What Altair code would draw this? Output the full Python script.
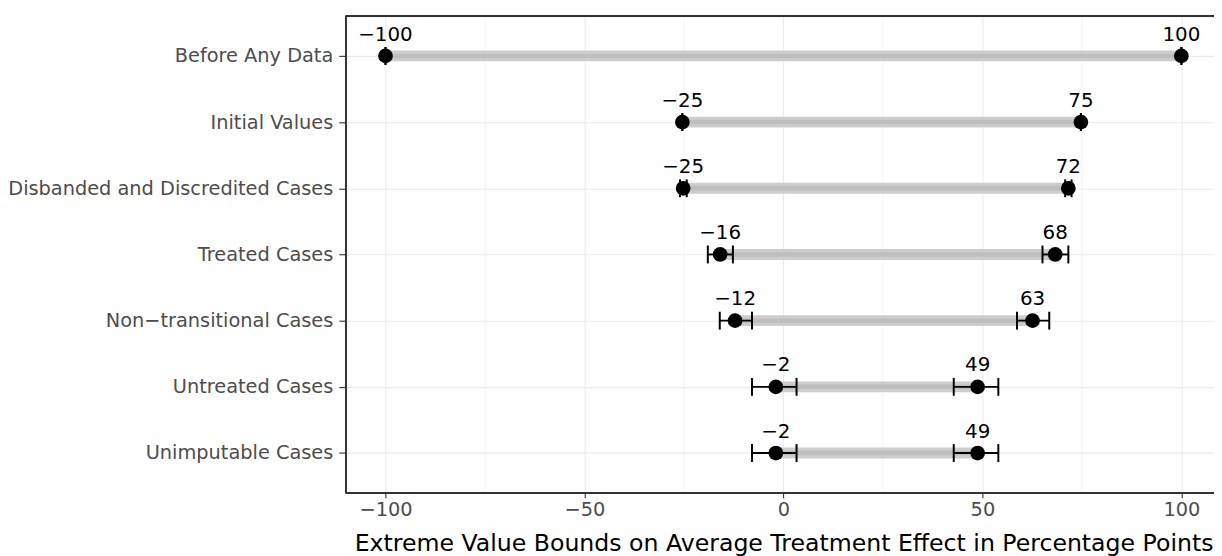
import altair as alt
import pandas as pd

categories = [
    "Before Any Data",
    "Initial Values",
    "Disbanded and Discredited Cases",
    "Treated Cases",
    "Non\u2212transitional Cases",
    "Untreated Cases",
    "Unimputable Cases",
]
lower_est = [-100, -25.4, -25.2, -15.9, -12.15, -1.9, -1.9]
lower_ci_lo = [-100, -25.4, -26.0, -19.0, -16.0, -7.9, -7.9]
lower_ci_hi = [-100, -25.4, -24.3, -12.7, -7.9, 3.3, 3.3]
upper_est = [100, 74.75, 71.6, 68.3, 62.6, 48.8, 48.8]
upper_ci_lo = [100, 74.75, 70.8, 65.1, 58.7, 42.8, 42.8]
upper_ci_hi = [100, 74.75, 72.4, 71.6, 66.8, 54.0, 54.0]

major_ticks = [-100, -50, 0, 50, 100]
minor_ticks = [-75, -25, 25, 75]
x_domain = [-110, 108.2]


def lab(v):
    return f"{round(v):d}".replace("-", "\u2212")


rows = []
for i, c in enumerate(categories):
    rows.append(dict(cat=c, est=lower_est[i], lo=lower_ci_lo[i], hi=lower_ci_hi[i], label=lab(lower_est[i])))
    rows.append(dict(cat=c, est=upper_est[i], lo=upper_ci_lo[i], hi=upper_ci_hi[i], label=lab(upper_est[i])))
pts = pd.DataFrame(rows)
seg = pd.DataFrame(dict(cat=categories, a=lower_est, b=upper_est))
minor = pd.DataFrame(dict(v=minor_ticks))

W = 875.5
H = 480.5
FONT = "DejaVu Sans"

xscale = alt.Scale(domain=x_domain, nice=False, zero=False)
yscale = alt.Scale(type="point", padding=0.6, domain=categories)

xaxis = alt.Axis(
    values=major_ticks, grid=True, gridColor="#EBEBEB", gridWidth=1.1,
    domain=False, tickColor="#333333", tickWidth=1.1, tickSize=5,
    labelFont=FONT, labelFontSize=19.5, labelColor="#4D4D4D", labelPadding=3,
    title="Extreme Value Bounds on Average Treatment Effect in Percentage Points",
    titleFont=FONT, titleFontSize=23.8, titleColor="black", titleFontWeight="normal",
    titleX=441.5, titleY=58, titleBaseline="alphabetic", titleAlign="center",
)
yaxis = alt.Axis(
    title=None, grid=True, gridColor="#EBEBEB", gridWidth=1.1, domain=False,
    tickColor="#333333", tickWidth=1.1, tickSize=7,
    labelFont=FONT, labelFontSize=19.5, labelColor="#4D4D4D", labelPadding=6,
    labelLimit=0,
)

base_x = alt.X("est:Q", scale=xscale, axis=xaxis)
base_y = alt.Y("cat:N", scale=yscale, axis=yaxis, sort=categories)

minor_layer = alt.Chart(minor).mark_rule(color="#EBEBEB", strokeWidth=0.55).encode(
    x=alt.X("v:Q", scale=xscale, axis=xaxis)
)

band_wide = alt.Chart(seg).mark_rule(color="#CDCDCD", strokeWidth=11, strokeCap="butt").encode(
    x=alt.X("a:Q", scale=xscale, axis=xaxis), x2="b:Q", y=base_y
)
band_narrow = alt.Chart(seg).mark_rule(color="#BEBEBE", strokeWidth=4.5, strokeCap="butt").encode(
    x=alt.X("a:Q", scale=xscale, axis=xaxis), x2="b:Q", y=base_y
)

err = alt.Chart(pts).mark_rule(color="black", strokeWidth=1.9).encode(
    x=alt.X("lo:Q", scale=xscale, axis=xaxis), x2="hi:Q", y=base_y
)
cap_lo = alt.Chart(pts).mark_tick(color="black", size=18, thickness=2, opacity=1).encode(
    x=alt.X("lo:Q", scale=xscale, axis=xaxis), y=base_y
)
cap_hi = alt.Chart(pts).mark_tick(color="black", size=18, thickness=2, opacity=1).encode(
    x=alt.X("hi:Q", scale=xscale, axis=xaxis), y=base_y
)
dots = alt.Chart(pts).mark_circle(color="black", size=220, opacity=1).encode(
    x=base_x, y=base_y
)
labels = alt.Chart(pts).mark_text(
    font=FONT, fontSize=20, color="black", dy=-15.5, baseline="alphabetic", align="center"
).encode(x=base_x, y=base_y, text="label:N")

border = alt.Chart(seg).mark_rule(color="#333333", strokeWidth=1.3)
top = border.encode(x=alt.value(0), x2=alt.value(W), y=alt.value(0))
bottom = border.encode(x=alt.value(0), x2=alt.value(W), y=alt.value(H))
left = border.encode(x=alt.value(0), y=alt.value(0), y2=alt.value(H))

chart = alt.layer(
    minor_layer, band_wide, band_narrow, err, cap_lo, cap_hi, dots, labels, top, bottom, left
).properties(
    width=W, height=H,
    autosize=alt.AutoSizeParams(type="none"),
    padding={"left": 340.5, "top": 6, "right": 0, "bottom": 61.5},
).configure_view(stroke=None).configure(background="white")

chart.save("out.html", embed_options={"renderer": "svg", "actions": False})
